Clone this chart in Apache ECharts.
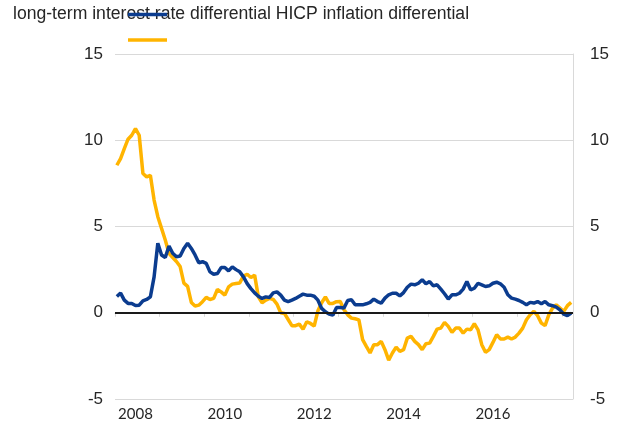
<!DOCTYPE html>
<html>
<head>
<meta charset="utf-8">
<script src="https://cdn.jsdelivr.net/npm/echarts@6/dist/echarts.min.js"></script>
<style>
  html, body { margin: 0; padding: 0; background: #fff; }
  #chart { width: 621px; height: 423px; }
</style>
</head>
<body>
<div id="chart"></div>
<script>
var chart = echarts.init(document.getElementById('chart'));

// monthly observations, Jan 2008 - Mar 2018
const startYear = 2008;
const monthCount = 123;

const legendText = 'long-term interest rate differential HICP inflation differential';
const seriesNames = ['long-term interest rate differential', 'HICP inflation differential'];

const rateDiff = [
  0.94, 1.14, 0.73, 0.54, 0.54, 0.42, 0.44, 0.69, 0.77, 0.92,
  2.08, 4.03, 3.35, 3.2, 3.87, 3.45, 3.25, 3.29, 3.73, 4.03,
  3.73, 3.35, 2.9, 2.96, 2.86, 2.37, 2.23, 2.27, 2.62, 2.62,
  2.43, 2.66, 2.5, 2.37, 2.08, 1.69, 1.4, 1.15, 0.96, 0.83,
  0.92, 0.89, 1.15, 1.21, 1.02, 0.73, 0.64, 0.73, 0.83, 0.96,
  1.08, 1.02, 1.02, 0.96, 0.73, 0.25, 0.06, -0.08, -0.14, 0.3,
  0.3, 0.27, 0.71, 0.75, 0.46, 0.46, 0.46, 0.52, 0.6, 0.79,
  0.65, 0.56, 0.85, 1.04, 1.13, 1.13, 0.98, 1.17, 1.48, 1.66,
  1.62, 1.71, 1.91, 1.68, 1.81, 1.56, 1.62, 1.37, 1.1, 0.79,
  1.04, 1.04, 1.13, 1.37, 1.81, 1.33, 1.42, 1.71, 1.62, 1.52,
  1.56, 1.71, 1.77, 1.68, 1.48, 1.04, 0.85, 0.79, 0.71, 0.6,
  0.46, 0.6, 0.56, 0.65, 0.52, 0.65, 0.46, 0.41, 0.33, 0.17,
  -0.08, -0.17, -0.02
];

const hicpDiff = [
  8.55, 8.94, 9.52, 10.06, 10.29, 10.67, 10.29, 8.07, 7.88, 7.97,
  6.53, 5.57, 4.89, 4.22, 3.45, 3.2, 2.97, 2.68, 1.72, 1.53,
  0.6, 0.39, 0.44, 0.64, 0.89, 0.77, 0.83, 1.35, 1.21, 1.02,
  1.5, 1.66, 1.7, 1.73, 2.12, 2.23, 2.04, 2.18, 0.92, 0.58,
  0.73, 0.83, 0.77, 0.5, 0, -0.04, -0.39, -0.75, -0.75, -0.66,
  -0.96, -0.52, -0.62, -0.77, 0.12, 0.58, 0.92, 0.54, 0.54, 0.64,
  0.65, 0.17, -0.12, -0.31, -0.35, -0.41, -1.56, -1.95, -2.33, -1.85,
  -1.85, -1.66, -2.14, -2.75, -2.33, -1.99, -2.24, -2.14, -1.47, -1.37,
  -1.66, -1.85, -2.14, -1.8, -1.76, -1.37, -0.95, -0.89, -0.56, -0.79,
  -1.14, -0.89, -0.89, -1.18, -0.95, -0.99, -0.64, -0.99, -1.85, -2.29,
  -2.14, -1.72, -1.27, -1.52, -1.52, -1.41, -1.52, -1.41, -1.18, -0.89,
  -0.41, -0.12, 0.08, -0.17, -0.6, -0.75, -0.12, 0.27, 0.46, 0.27,
  0.08, 0.41, 0.6
];

const months = [];
for (var i = 0; i < monthCount; i++) {
  var y = startYear + Math.floor(i / 12);
  var m = (i % 12) + 1;
  months.push(y + '-' + (m < 10 ? '0' + m : m));
}

const blue = '#0b3c8f';
const orange = '#ffb400';
const gridGrey = '#d9d9d9';
const textCol = '#262626';

var yAxisBase = {
  type: 'value',
  min: -5,
  max: 15,
  interval: 5,
  axisTick: { show: false },
  axisLabel: { color: textCol, fontSize: 17, fontFamily: 'Liberation Sans, Arial' }
};

var option = {
  animation: false,
  grid: { left: 115, right: 48, top: 54, bottom: 24, containLabel: false },
  graphic: [
    {
      type: 'text', left: 13, top: 5,
      style: { text: legendText, fontSize: 17.6, fill: textCol, fontFamily: 'Liberation Sans, Arial' }
    },
    {
      type: 'line', z: 10,
      shape: { x1: 128, y1: 14.5, x2: 167, y2: 14.5 },
      style: { stroke: blue, lineWidth: 3.5 }
    },
    {
      type: 'line', z: 10,
      shape: { x1: 128, y1: 40, x2: 167, y2: 40 },
      style: { stroke: orange, lineWidth: 3.5 }
    }
  ],
  xAxis: {
    type: 'category',
    data: months,
    boundaryGap: true,
    axisLine: { lineStyle: { color: gridGrey, width: 1 } },
    axisTick: {
      show: true,
      length: 4,
      interval: function (idx) { return idx % 12 === 0; },
      lineStyle: { color: gridGrey }
    },
    axisLabel: {
      interval: function (idx) { return idx % 24 === 5; },
      formatter: function (v) { return v.slice(0, 4); },
      color: textCol,
      fontSize: 15,
      fontFamily: 'Lato',
      margin: 8
    },
    splitLine: { show: false }
  },
  yAxis: [
    Object.assign({}, yAxisBase, {
      position: 'left',
      axisLine: { show: false },
      splitLine: { show: true, lineStyle: { color: gridGrey, width: 1 } },
      axisLabel: Object.assign({}, yAxisBase.axisLabel, { margin: 12 })
    }),
    Object.assign({}, yAxisBase, {
      position: 'right',
      axisLine: { show: true, lineStyle: { color: gridGrey, width: 1 } },
      splitLine: { show: false },
      axisLabel: Object.assign({}, yAxisBase.axisLabel, { margin: 17 })
    })
  ],
  series: [
    {
      name: seriesNames[0],
      type: 'line',
      data: rateDiff,
      showSymbol: false,
      lineStyle: { color: blue, width: 3.5 },
      itemStyle: { color: blue },
      z: 3,
      markLine: {
        silent: true,
        symbol: 'none',
        label: { show: false },
        lineStyle: { color: '#1a1a1a', width: 2, type: 'solid' },
        data: [{ yAxis: 0 }]
      }
    },
    {
      name: seriesNames[1],
      type: 'line',
      data: hicpDiff,
      showSymbol: false,
      lineStyle: { color: orange, width: 3.5 },
      itemStyle: { color: orange },
      z: 2
    }
  ]
};

chart.setOption(option);
</script>
</body>
</html>
